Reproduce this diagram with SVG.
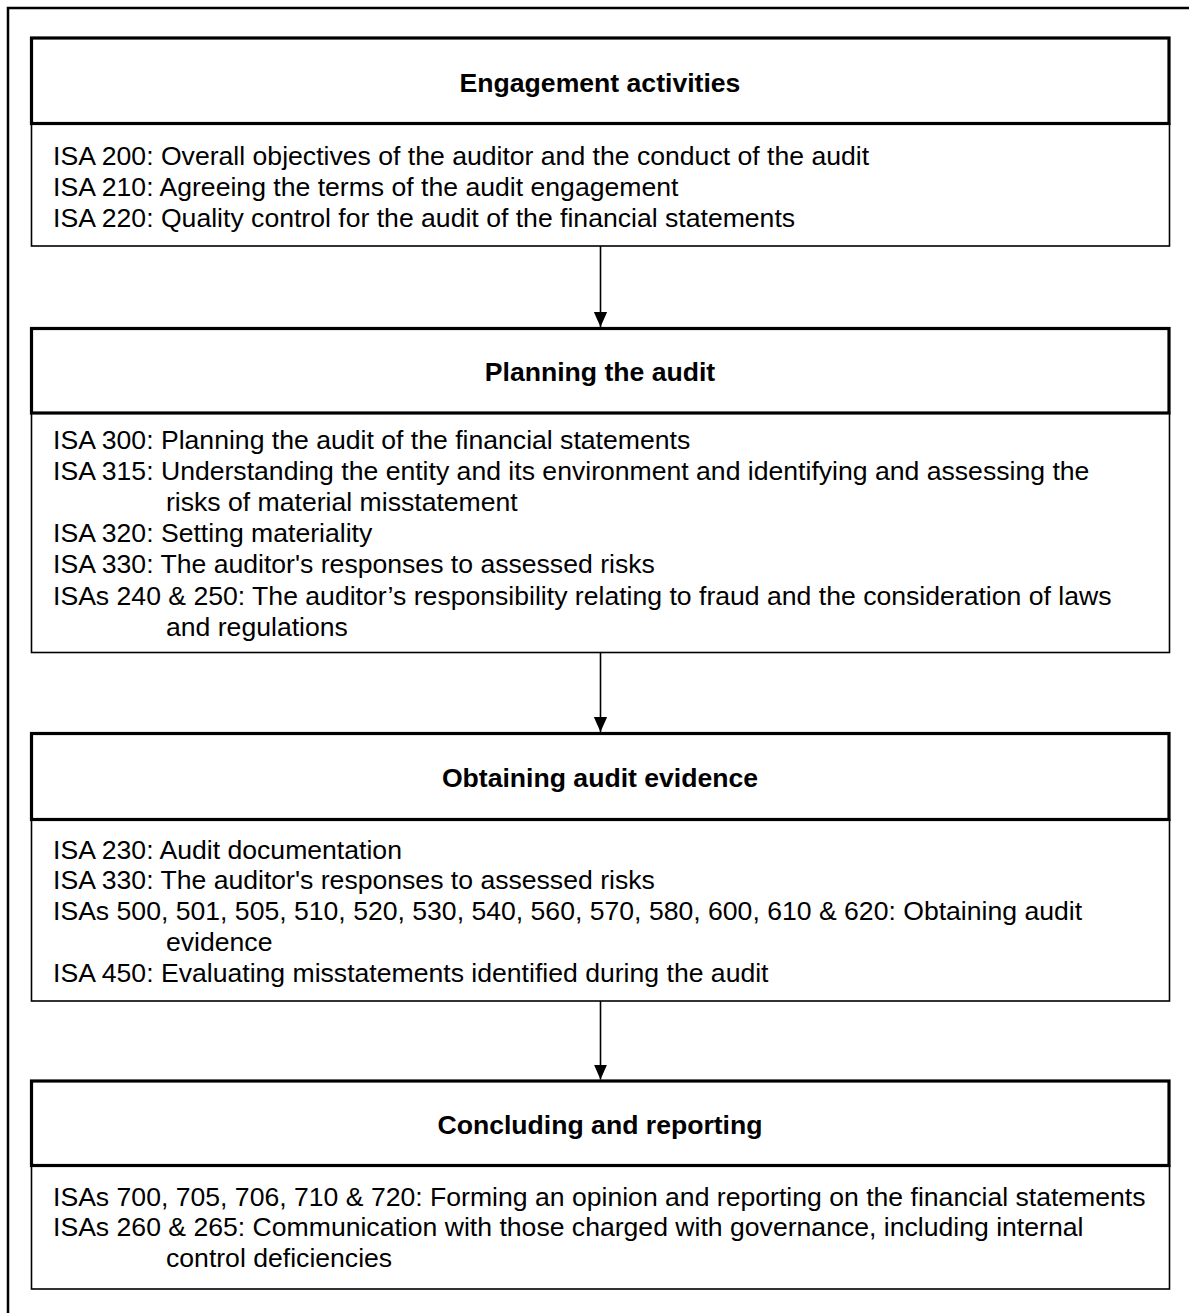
<svg xmlns="http://www.w3.org/2000/svg" width="1189" height="1313" viewBox="0 0 1189 1313">
<style>
.frame{fill:none;stroke:#000;stroke-width:2.5}
.head{fill:#fff;stroke:#000;stroke-width:3.2}
.body{fill:#fff;stroke:#000;stroke-width:1.6}
.title{font-family:"Liberation Sans",Arial,sans-serif;font-size:26.6px;font-weight:bold;fill:#000;text-anchor:middle}
.txt{font-family:"Liberation Sans",Arial,sans-serif;font-size:26.6px;fill:#000}
.conn{stroke:#000;stroke-width:1.6;fill:none}
</style>
<defs>
<marker id="ah" markerWidth="15" markerHeight="17" refX="17" refY="7.5" orient="auto" markerUnits="userSpaceOnUse" viewBox="0 0 17 15">
<path d="M0,0 L17,7.5 L0,15 Z" fill="#000"/>
</marker>
</defs>
<rect width="1189" height="1313" fill="#fff"/>
<path class="frame" d="M8,1313 V8 H1189"/>
<g id="node-engagement">
<rect class="body" x="31.5" y="123.5" width="1138" height="122.5"/>
<rect class="head" x="31.5" y="38" width="1137.5" height="85.5"/>
<text class="title" x="600" y="91.5">Engagement activities</text>
<text class="txt"><tspan x="53" y="165">ISA 200: Overall objectives of the auditor and the conduct of the audit</tspan><tspan x="53" y="195.8">ISA 210: Agreeing the terms of the audit engagement</tspan><tspan x="53" y="226.6">ISA 220: Quality control for the audit of the financial statements</tspan></text>
</g>
<g id="node-planning">
<rect class="body" x="31.5" y="413" width="1138" height="239.5"/>
<rect class="head" x="31.5" y="328.5" width="1137.5" height="84.5"/>
<text class="title" x="600" y="381">Planning the audit</text>
<text class="txt"><tspan x="53" y="448.5">ISA 300: Planning the audit of the financial statements</tspan><tspan x="53" y="479.7">ISA 315: Understanding the entity and its environment and identifying and assessing the</tspan><tspan x="166" y="510.9">risks of material misstatement</tspan><tspan x="53" y="542.1">ISA 320: Setting materiality</tspan><tspan x="53" y="573.3">ISA 330: The auditor's responses to assessed risks</tspan><tspan x="53" y="604.5">ISAs 240 &amp; 250: The auditor’s responsibility relating to fraud and the consideration of laws</tspan><tspan x="166" y="635.7">and regulations</tspan></text>
</g>
<g id="node-evidence">
<rect class="body" x="31.5" y="819.5" width="1138" height="181.5"/>
<rect class="head" x="31.5" y="733.5" width="1137.5" height="86"/>
<text class="title" x="600" y="787">Obtaining audit evidence</text>
<text class="txt"><tspan x="53" y="858.5">ISA 230: Audit documentation</tspan><tspan x="53" y="889.3">ISA 330: The auditor's responses to assessed risks</tspan><tspan x="53" y="920.1">ISAs 500, 501, 505, 510, 520, 530, 540, 560, 570, 580, 600, 610 &amp; 620: Obtaining audit</tspan><tspan x="166" y="950.9">evidence</tspan><tspan x="53" y="981.7">ISA 450: Evaluating misstatements identified during the audit</tspan></text>
</g>
<g id="node-concluding">
<rect class="body" x="31.5" y="1165.5" width="1138" height="123.5"/>
<rect class="head" x="31.5" y="1081" width="1137.5" height="84.5"/>
<text class="title" x="600" y="1133.5">Concluding and reporting</text>
<text class="txt"><tspan x="53" y="1205.5">ISAs 700, 705, 706, 710 &amp; 720: Forming an opinion and reporting on the financial statements</tspan><tspan x="53" y="1236.3">ISAs 260 &amp; 265: Communication with those charged with governance, including internal</tspan><tspan x="166" y="1267.1">control deficiencies</tspan></text>
</g>
<g id="connectors">
<line class="conn" x1="600.5" y1="246" x2="600.5" y2="327" marker-end="url(#ah)"/>
<line class="conn" x1="600.5" y1="652.5" x2="600.5" y2="732" marker-end="url(#ah)"/>
<line class="conn" x1="600.5" y1="1001" x2="600.5" y2="1079.5" marker-end="url(#ah)"/>
</g>
</svg>
